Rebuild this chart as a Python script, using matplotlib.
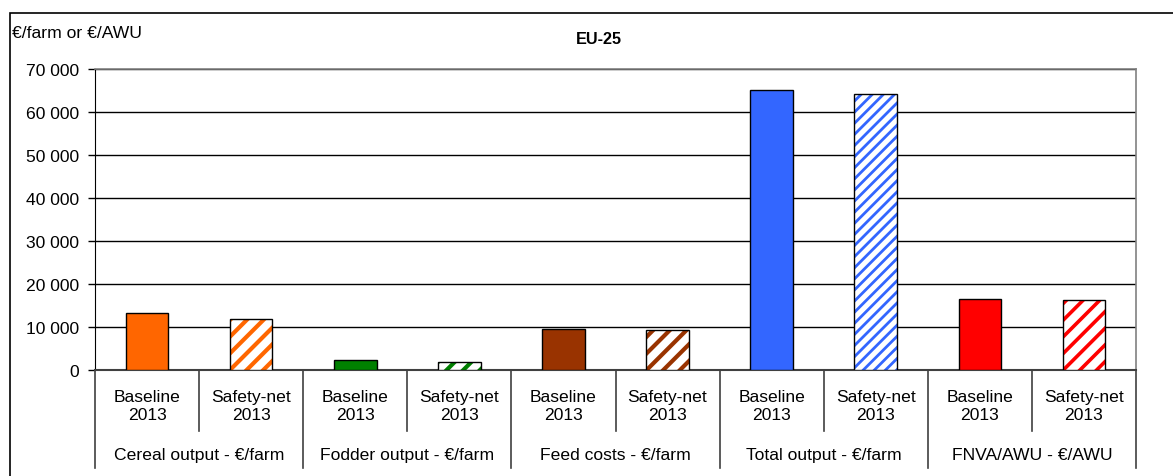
import numpy as np
import matplotlib.pyplot as plt
import matplotlib.transforms as mtransforms
from matplotlib.patches import Rectangle
from matplotlib.ticker import FuncFormatter

groups = ["Cereal output - €/farm", "Fodder output - €/farm", "Feed costs - €/farm",
          "Total output - €/farm", "FNVA/AWU - €/AWU"]
scenarios = ["Baseline\n2013", "Safety-net\n2013"]
baseline = [13200, 2300, 9500, 65100, 16500]
safety_net = [11900, 1900, 9200, 64300, 16200]
colors = ["#FF6600", "#008000", "#993300", "#3366FF", "#FF0000"]
hatches = ["//", "//", "//", "///", "//"]
hatch_lw = [3.0, 3.0, 3.0, 2.0, 2.6]

plt.rcParams['font.family'] = ['Liberation Sans', 'DejaVu Sans']

W, H = 1173, 477
fig = plt.figure(figsize=(W / 100, H / 100), dpi=100)
ax = fig.add_axes([95 / W, 1 - 371 / H, (1136 - 95) / W, (371 - 70) / H])

n = len(groups)
x = np.arange(2 * n) + 0.5
width = 0.41

for i in range(n):
    # baseline: solid
    ax.bar(x[2 * i], baseline[i], width, color=colors[i], edgecolor="black",
           linewidth=1.0, zorder=3)
    # safety-net: hatched stripes, then black outline on top
    with plt.rc_context({'hatch.linewidth': hatch_lw[i]}):
        ax.bar(x[2 * i + 1], safety_net[i], width, color="white", edgecolor=colors[i],
               hatch=hatches[i], linewidth=0, zorder=3)
    ax.bar(x[2 * i + 1], safety_net[i], width, fill=False, edgecolor="black",
           linewidth=1.0, zorder=4)

ax.set_xlim(0, 2 * n)
ax.set_ylim(0, 70000)
ax.set_yticks(np.arange(0, 70001, 10000))
ax.yaxis.set_major_formatter(FuncFormatter(lambda v, p: f"{int(v):,}".replace(",", " ")))
ax.tick_params(axis="y", length=5, width=1, pad=6.5, labelsize=12.6, color="black")
ax.set_xticks([])
ax.grid(axis="y", color="black", linewidth=1, zorder=0)

for side in ["top", "right"]:
    ax.spines[side].set_color("#808080")
    ax.spines[side].set_linewidth(1.2)
ax.spines["left"].set_color("black")
ax.spines["bottom"].set_color("#404040")
ax.spines["bottom"].set_linewidth(1.5)

# category axis labels and dividers below the plot
tr = mtransforms.blended_transform_factory(ax.transData, fig.transFigure)
y0 = 1 - 371 / H
y_short = 1 - 432 / H
y_long = 1 - 469 / H
for k in range(2 * n + 1):
    y_end = y_long if k % 2 == 0 else y_short
    ax.plot([k, k], [y0, y_end], transform=tr, color="#404040", linewidth=1.2,
            clip_on=False)

for k in range(2 * n):
    ax.text(x[k], 1 - 407 / H, scenarios[k % 2], transform=tr, ha="center",
            va="center", fontsize=12.6, linespacing=1.25)
for i in range(n):
    ax.text(2 * i + 1, 1 - 456 / H, groups[i], transform=tr, ha="center",
            va="center", fontsize=12.6)

fig.text(599 / W, 1 - 39 / H, "EU-25", ha="center", va="center", fontsize=11.7,
         fontweight="bold")
fig.text(12 / W, 1 - 33 / H, "€/farm or €/AWU", ha="left", va="center", fontsize=12.6)

# outer chart frame (extends past the image edges)
fig.patches.append(Rectangle((10 / W, -0.1), 1.2, 1 - 14 / H + 0.1,
                             transform=fig.transFigure, fill=False,
                             edgecolor="black", linewidth=1.2))

fig.savefig("out.png", dpi=100)
